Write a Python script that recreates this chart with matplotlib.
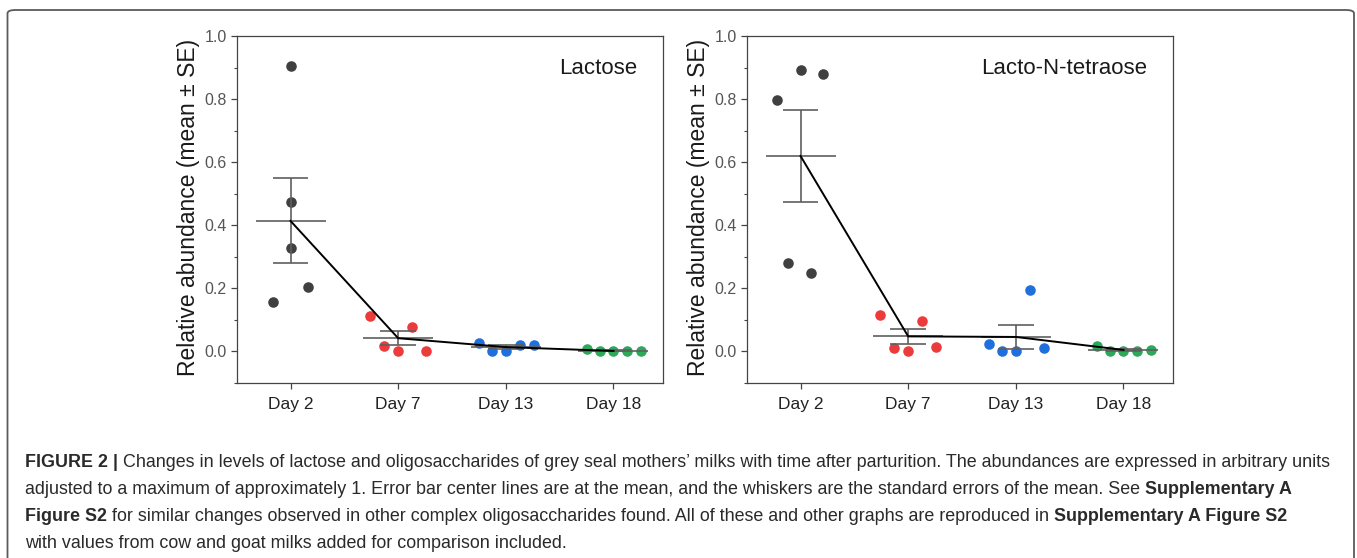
import numpy as np
import matplotlib
matplotlib.use("Agg")
from matplotlib import pyplot as plt
from matplotlib.patches import FancyBboxPatch

plt.rcParams['font.family'] = ['Liberation Sans', 'DejaVu Sans']

days = ["Day 2", "Day 7", "Day 13", "Day 18"]
day_colors = ["#404040", "#ec3b3b", "#1f6fdc", "#2ea85a"]

# horizontal spread of the dots around each day
lac_jitter = [
    [-0.16, 0.0, 0.0, 0.0, 0.16],
    [-0.26, -0.13, 0.0, 0.13, 0.26],
    [-0.25, -0.125, 0.0, 0.13, 0.26],
    [-0.25, -0.125, 0.0, 0.13, 0.26],
]
lac_values = [
    [0.157, 0.905, 0.474, 0.329, 0.204],
    [0.112, 0.016, 0.0, 0.079, 0.003],
    [0.028, 0.0, 0.0, 0.022, 0.019],
    [0.008, 0.0, 0.0, 0.0, 0.0],
]

lnt_jitter = [
    [-0.22, -0.115, 0.0, 0.10, 0.21],
    [-0.26, -0.13, 0.0, 0.13, 0.26],
    [-0.25, -0.125, 0.0, 0.13, 0.26],
    [-0.25, -0.125, 0.0, 0.13, 0.26],
]
lnt_values = [
    [0.798, 0.280, 0.891, 0.250, 0.879],
    [0.117, 0.011, 0.0, 0.096, 0.015],
    [0.024, 0.0, 0.0, 0.195, 0.011],
    [0.018, 0.0, 0.0, 0.002, 0.004],
]

panels = [("Lactose", lac_jitter, lac_values), ("Lacto-N-tetraose", lnt_jitter, lnt_values)]

fig = plt.figure(figsize=(13.57, 5.58), dpi=100)

# outer frame of the figure box
frame = FancyBboxPatch((7.5 / 1357, -0.05), 1346.5 / 1357, 1.05 - 10 / 558,
                       boxstyle="round,pad=0,rounding_size=0.006",
                       transform=fig.transFigure, fill=False,
                       edgecolor="#5a5a5a", linewidth=1.3)
fig.patches.append(frame)

ax_left = [236.7 / 1357, 746.7 / 1357]
for (name, jit, vals), x0 in zip(panels, ax_left):
    ax = fig.add_axes([x0, 1 - 383 / 558, 426.3 / 1357, 347 / 558])
    xs = np.arange(len(days))
    means = np.array([np.mean(v) for v in vals])
    ses = np.array([np.std(v, ddof=1) / np.sqrt(len(v)) for v in vals])

    for i in range(len(days)):
        ax.plot(xs[i] + np.array(jit[i]), vals[i], "o", color=day_colors[i],
                markersize=7.6, markeredgewidth=0, zorder=2)

    ax.hlines(means, xs - 0.325, xs + 0.325, color="#5f5f5f", lw=1.2, zorder=3)
    ax.hlines(means + ses, xs - 0.165, xs + 0.165, color="#5f5f5f", lw=1.2, zorder=3)
    ax.hlines(means - ses, xs - 0.165, xs + 0.165, color="#5f5f5f", lw=1.2, zorder=3)
    ax.vlines(xs, means - ses, means + ses, color="#5f5f5f", lw=1.2, zorder=3)
    ax.plot(xs, means, color="black", lw=1.4, zorder=4)

    ax.set_xlim(-0.5, 3.46)
    ax.set_ylim(-0.1, 1.0)
    ax.set_xticks(xs)
    ax.set_xticklabels(days, fontsize=12.5, color="#222222")
    ax.set_yticks([0.0, 0.2, 0.4, 0.6, 0.8, 1.0])
    ax.set_yticklabels(["0.0", "0.2", "0.4", "0.6", "0.8", "1.0"], fontsize=11.5, color="#555555")
    ax.set_yticks(np.arange(-0.1, 1.0, 0.2), minor=True)
    ax.tick_params(axis="both", which="major", direction="out", length=4, width=0.9, color="#444444")
    ax.tick_params(axis="y", which="major", pad=3)
    ax.tick_params(axis="x", which="major", pad=6)
    ax.tick_params(axis="y", which="minor", direction="out", length=2.5, width=0.8, color="#444444")
    for s in ax.spines.values():
        s.set_color("#444444")
        s.set_linewidth(0.9)

    ax.set_ylabel("Relative abundance (mean \u00b1 SE)", fontsize=16.5, color="#1a1a1a")
    ax.yaxis.set_label_coords(-0.085, 0.505)
    ax.text(0.94, 0.905, name, transform=ax.transAxes, ha="right", va="center",
            fontsize=16, color="#1a1a1a")

# caption, built from bold and normal pieces
caption = [
    [("FIGURE 2 |", "bold"),
     (" Changes in levels of lactose and oligosaccharides of grey seal mothers\u2019 milks with time after parturition. The abundances are expressed in arbitrary units", "normal")],
    [("adjusted to a maximum of approximately 1. Error bar center lines are at the mean, and the whiskers are the standard errors of the mean. See", "normal"),
     (" Supplementary A", "bold")],
    [("Figure S2", "bold"),
     (" for similar changes observed in other complex oligosaccharides found. All of these and other graphs are reproduced in", "normal"),
     (" Supplementary A Figure S2", "bold")],
    [("with values from cow and goat milks added for comparison included.", "normal")],
]
baselines = [467, 494, 521, 548]

renderer = fig.canvas.get_renderer()
for line, yb in zip(caption, baselines):
    xpos = 25 / 1357
    for txt, wt in line:
        t = fig.text(xpos, 1 - yb / 558, txt, fontsize=12.9, fontweight=wt,
                     color="#2a2a2a", ha="left", va="baseline")
        w = t.get_window_extent(renderer).width
        xpos += w / 1357

fig.savefig("out.png", dpi=100)
